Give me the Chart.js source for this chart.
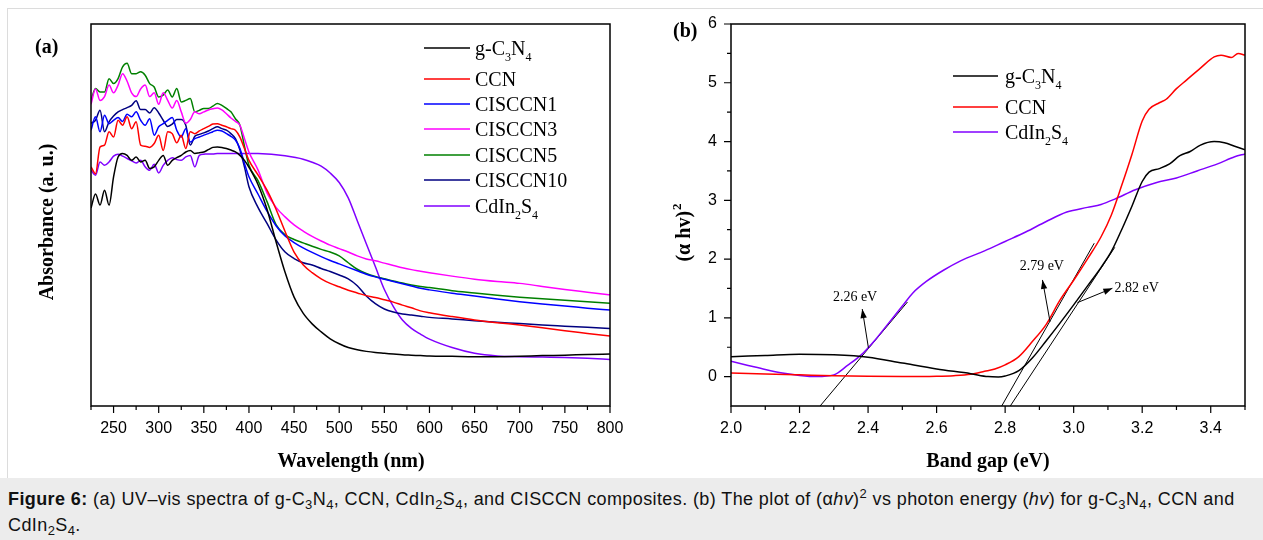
<!DOCTYPE html>
<html><head><meta charset="utf-8">
<script src="https://cdn.jsdelivr.net/npm/chart.js@4.4.0/dist/chart.umd.min.js"></script>
<style>
html,body{margin:0;padding:0;background:#fff;width:1263px;height:540px;overflow:hidden;}
#frame{position:absolute;left:7px;top:8px;width:1260px;height:469px;border:1px solid #dcdcdc;border-right:none;border-bottom:none;}
#ca{position:absolute;left:0;top:0;}
#cb{position:absolute;left:640px;top:0;}
#cap{position:absolute;left:0;top:478px;width:1263px;height:62px;background:#ececec;font-family:"Liberation Sans",Arial,sans-serif;font-size:18px;letter-spacing:0.4px;line-height:26px;padding:8px 0 0 8px;box-sizing:border-box;color:#111;white-space:nowrap;}
#cap sub{font-size:13px;vertical-align:-4px;line-height:0;}
#cap sup{font-size:13px;vertical-align:7px;line-height:0;}
</style></head>
<body>
<div id="frame"></div>
<canvas id="ca" width="640" height="478"></canvas>
<canvas id="cb" width="623" height="478"></canvas>
<div id="cap"><b>Figure 6:</b> (a) UV–vis spectra of g-C<sub>3</sub>N<sub>4</sub>, CCN, CdIn<sub>2</sub>S<sub>4</sub>, and CISCCN composites. (b) The plot of (α<i>hv</i>)<sup>2</sup> vs photon energy (<i>hv</i>) for g-C<sub>3</sub>N<sub>4</sub>, CCN and<br>CdIn<sub>2</sub>S<sub>4</sub>.</div>
<script>
// ---------- Panel (a) data ----------
const wavelengths = [225,230,235,240,245,250,255,260,265,270,275,280,285,290,295,300,305,310,315,320,325,330,335,340,345,350,355,360,365,370,375,380,385,390,395,400,
 410,420,430,440,450,460,470,480,490,500,510,520,530,540,550,560,570,580,590,600,
 625,650,675,700,725,750,775,800];
const gC3N4_A = [51.8,55.5,52.6,56.5,52.6,60,65.2,66.1,65.6,64.3,65.2,63.9,64.3,62.2,62.6,64.3,65.6,63,64.3,65,65.6,66.5,66.9,66.1,66.3,66.5,67.1,67.7,67.8,67.7,67.4,67,66.5,65.6,64.3,62.5,
 58,51.5,43,35,28.5,24.3,21.5,19.4,17.6,16.3,15.3,14.7,14.3,14,13.8,13.6,13.4,13.3,13.2,13.1,
 13,12.9,12.9,13,13.2,13.3,13.5,13.6];
const CCN_A = [62.6,60.8,67.8,68.3,71.8,70.4,74.8,73.5,75.7,72.6,74.4,68.3,68,67.7,68.7,70.9,66.9,71.8,71.3,68.9,70.9,67.4,71.8,71.3,72,72.6,73.2,73.8,73.9,73.5,73.1,72.6,72.2,70.4,67.4,64.3,
 60.5,56.5,51.5,45.7,40.3,37,34.9,33.3,32.1,31.2,30.3,29.6,28.9,28.4,27.8,27.2,26.4,25.7,24.9,24.4,
 23.4,22.5,21.8,21.2,20.5,19.7,19,18.3];
const CISCCN1_A = [72.2,75.7,71.8,76.1,73.9,74.8,75.5,74.5,76.4,75.7,77,74.8,73.5,75.2,70.9,73.1,73.9,74.8,75.5,72.2,70.4,72.6,69.1,70,70.4,70.9,71.3,71.8,72.2,72,71.3,70.6,69.6,67.4,63.5,60,
 55.5,51,47.2,44.5,42.8,41.4,40.2,39.1,38.1,37.2,36.3,35.4,34.5,33.8,33.2,32.6,32,31.4,30.8,30.4,
 29.5,28.8,28,27.3,26.7,26.2,25.6,25.1];
const CISCCN3_A = [79,83,80,81,84,82,84,87,85,82,81,83,84,81,82,79,82,80,78,80,77,74,75,77,76.5,77,77.5,77.8,78,77.5,76.5,75.4,74.5,73.5,70,66.5,
 61.8,55.8,52,49.5,47.4,45.8,44.4,43.2,42.1,41.2,40.3,39.3,38.5,38,37.4,36.8,36.2,35.7,35.3,34.9,
 34,33.2,32.6,32.1,31.3,30.5,29.8,29.1];
const CISCCN5_A = [80,83.1,82.2,82.2,85.7,84.4,85.7,88.8,89.7,87,87,87.5,86.6,84.4,83.5,80.9,81.4,82.7,80.9,83.1,79.6,80,80.5,77,77.4,77.9,77.9,78.5,79.2,78.7,77.9,77,75.2,73.5,68,63,
 59,53.5,47.5,44.8,43.6,42.7,41.8,41,40.3,39.3,37.5,35.8,34.7,33.9,33.3,32.7,32.2,31.7,31.3,31,
 30.2,29.6,29,28.5,28.1,27.7,27.3,26.9];
const CISCCN10_A = [74,74.8,77.4,71.8,74.4,75.9,77,77.6,78.1,78.7,79.9,77.6,77.6,76.7,78.1,76.7,74.8,73.2,73.8,75,75,73.5,68.3,70.6,71.1,71.5,72,72.6,73.1,72.6,72.2,71.3,70,67,62.6,57.4,
 52,47.8,43.5,40.3,38.6,37.5,36.9,36,35.2,34.3,33.3,31.5,28.8,26.8,25.4,24.6,24.1,23.8,23.5,23.2,
 22.8,22.3,21.9,21.6,21.2,20.9,20.6,20.3];
const CdIn2S4_A = [61.7,60.4,63.9,63,63.9,65.4,65.9,65.4,64.8,64.2,63.6,64.3,62.6,61.7,63.3,61,63,64.3,65,64.5,64.3,65.2,65.6,62.6,65.6,65.9,66,66,66.1,66.1,66.1,66.1,66.1,66.1,66.1,66.1,
 66.1,66,65.8,65.5,65.1,64.6,63.8,62.8,61,58.5,54.5,48.5,42.5,36.5,30.5,26,22.5,20.3,18.8,17.5,
 15.3,13.8,13.1,12.9,12.8,12.7,12.5,12.2];
const namesA = ['g-C_3N_4','CCN','CISCCN1','CISCCN3','CISCCN5','CISCCN10','CdIn_2S_4'];
const colorsA = ['#000000','#ff0000','#0000ff','#ff00ff','#008000','#000080','#8000ff'];
const valuesA = [gC3N4_A, CCN_A, CISCCN1_A, CISCCN3_A, CISCCN5_A, CISCCN10_A, CdIn2S4_A];
const xTicksA = [250,300,350,400,450,500,550,600,650,700,750,800];
const xMinorA = [225,275,325,375,425,475,525,575,625,675,725,775];

// ---------- Panel (b) data ----------
const energy_g = [2.0,2.1,2.2,2.3,2.4,2.5,2.6,2.7,2.75,2.78,2.8,2.84,2.88,2.92,2.96,3.0,3.04,3.08,3.11,3.14,3.17,3.2,3.22,3.25,3.28,3.31,3.34,3.37,3.41,3.44,3.47,3.5];
const gC3N4_B  = [0.34,0.36,0.38,0.37,0.33,0.23,0.13,0.05,0.0,-0.005,0.01,0.1,0.32,0.61,0.91,1.22,1.54,1.86,2.13,2.5,2.9,3.32,3.48,3.54,3.62,3.76,3.83,3.94,4.0,3.98,3.92,3.86];
const energy_c = [2.0,2.1,2.2,2.3,2.4,2.5,2.6,2.65,2.7,2.74,2.77,2.8,2.84,2.88,2.92,2.96,3.0,3.04,3.08,3.11,3.14,3.17,3.2,3.22,3.25,3.27,3.3,3.33,3.37,3.41,3.43,3.46,3.48,3.5];
const CCN_B    = [0.06,0.045,0.03,0.015,0.005,0.0,0.005,0.015,0.04,0.09,0.13,0.2,0.34,0.6,0.89,1.3,1.64,2.0,2.38,2.75,3.25,3.78,4.35,4.55,4.66,4.72,4.9,5.05,5.25,5.44,5.47,5.43,5.5,5.47];
const energy_s = [2.0,2.05,2.1,2.15,2.2,2.25,2.3,2.34,2.38,2.42,2.46,2.5,2.53,2.57,2.62,2.67,2.74,2.8,2.86,2.92,2.98,3.04,3.08,3.12,3.18,3.24,3.3,3.36,3.42,3.47,3.5];
const CdIn2S4_B = [0.26,0.19,0.12,0.06,0.02,0.0,0.03,0.19,0.37,0.62,0.91,1.2,1.42,1.62,1.81,1.97,2.14,2.3,2.46,2.64,2.8,2.88,2.93,3.02,3.18,3.3,3.38,3.5,3.62,3.74,3.79];
const namesB = ['g-C_3N_4','CCN','CdIn_2S_4'];
const colorsB = ['#000000','#ff0000','#8000ff'];
// tangent lines (Tauc extrapolation): [x0,y0,x1,y1]
const tangentLines = [[2.26,-0.5,2.515,1.27],[2.79,-0.5,3.06,2.27],[2.815,-0.5,3.12,2.2]];
const bandGapLabels = ['2.26 eV','2.79 eV','2.82 eV'];
const labelPos = [[2.362,1.35],[2.907,1.88],[3.184,1.51]];
const arrowTail = [[2.401,0.49],[2.931,0.935],[3.011,1.259]];
const arrowTip = [[2.383,1.15],[2.909,1.645],[3.113,1.503]];
const xTicksB = [2.0,2.2,2.4,2.6,2.8,3.0,3.2,3.4];
const xMinorB = [2.1,2.3,2.5,2.7,2.9,3.1,3.3,3.5];
const yTicksB = [0,1,2,3,4,5,6];
const yMinorB = [0.5,1.5,2.5,3.5,4.5,5.5];

const SANS = '"Liberation Sans", Arial, sans-serif';
const SERIF = '"Liberation Serif", "Times New Roman", serif';

function drawSubText(ctx, str, x, y, size, bold){
  const parts = str.split(/(_\d)/).filter(p=>p.length);
  ctx.textBaseline = 'alphabetic';
  ctx.textAlign = 'left';
  const base = y + size*0.33;
  let cx = x;
  for (const p of parts){
    if (p[0]==='_'){
      ctx.font = (bold?'bold ':'') + Math.round(size*0.62) + 'px ' + SERIF;
      ctx.fillText(p.slice(1), cx, base + size*0.3);
      cx += ctx.measureText(p.slice(1)).width;
    } else {
      ctx.font = (bold?'bold ':'') + size + 'px ' + SERIF;
      ctx.fillText(p, cx, base);
      cx += ctx.measureText(p).width;
    }
  }
}

function frameAndTicks(chart, xs, ys){
  const ctx = chart.ctx, a = chart.chartArea;
  ctx.save();
  ctx.strokeStyle = '#000';
  ctx.lineWidth = 1.5;
  ctx.strokeRect(a.left, a.top, a.right-a.left, a.bottom-a.top);
  ctx.lineWidth = 1.2;
  const sx = chart.scales.x, sy = chart.scales.y;
  ctx.beginPath();
  for (const v of xs.major){ const p = sx.getPixelForValue(v); ctx.moveTo(p, a.bottom); ctx.lineTo(p, a.bottom+7); }
  for (const v of xs.minor){ const p = sx.getPixelForValue(v); ctx.moveTo(p, a.bottom); ctx.lineTo(p, a.bottom+4); }
  if (ys){
    for (const v of ys.major){ const p = sy.getPixelForValue(v); ctx.moveTo(a.left, p); ctx.lineTo(a.left-7, p); }
    for (const v of ys.minor){ const p = sy.getPixelForValue(v); ctx.moveTo(a.left, p); ctx.lineTo(a.left-4, p); }
  }
  ctx.stroke();
  ctx.restore();
}

// ---------- Chart (a) ----------
const pluginA = {
  id:'decoA',
  afterDraw(chart){
    const ctx = chart.ctx;
    frameAndTicks(chart, {major:xTicksA, minor:xMinorA}, null);
    ctx.save();
    ctx.fillStyle = '#000';
    ctx.font = 'bold 20px ' + SERIF; ctx.textAlign='left'; ctx.textBaseline='alphabetic';
    ctx.fillText('(a)', 35, 53);
    ctx.textAlign='center';
    ctx.fillText('Wavelength (nm)', 351, 467);
    ctx.save(); ctx.translate(53, 222); ctx.rotate(-Math.PI/2);
    ctx.textAlign='center'; ctx.fillText('Absorbance (a. u.)', 0, 0); ctx.restore();
    const rows = [48,79,104,129,155,180,206];
    namesA.forEach((n,i)=>{
      ctx.strokeStyle = colorsA[i]; ctx.lineWidth = 1.6;
      ctx.beginPath(); ctx.moveTo(424, rows[i]); ctx.lineTo(470, rows[i]); ctx.stroke();
      ctx.fillStyle = '#000';
      drawSubText(ctx, n, 475, rows[i], 20, false);
    });
    ctx.restore();
  }
};

new Chart(document.getElementById('ca'), {
  type:'line',
  data:{ datasets: valuesA.map((vals,i)=>({
    label: namesA[i],
    data: wavelengths.map((w,k)=>({x:w, y:vals[k]})),
    borderColor: colorsA[i], borderWidth:1.5, pointRadius:0, fill:false,
    cubicInterpolationMode:'monotone'
  }))},
  options:{
    responsive:false, animation:false, events:[],
    layout:{padding:{top:24,right:30,left:0,bottom:0}},
    plugins:{legend:{display:false}, tooltip:{enabled:false}},
    scales:{
      x:{type:'linear', min:225, max:800,
         afterBuildTicks(s){ s.ticks = xTicksA.map(v=>({value:v})); },
         afterFit(s){ s.height = 72; },
         grid:{display:false, drawTicks:false}, border:{display:false},
         ticks:{font:{family:SANS,size:16}, color:'#000', padding:13, maxRotation:0, autoSkip:false}},
      y:{type:'linear', min:0, max:100,
         afterFit(s){ s.width = 91; },
         grid:{display:false, drawTicks:false}, border:{display:false},
         ticks:{display:false}}
    }
  },
  plugins:[pluginA]
});

// ---------- Chart (b) ----------
function arrow(ctx, x0,y0,x1,y1){
  ctx.beginPath(); ctx.moveTo(x0,y0); ctx.lineTo(x1,y1); ctx.stroke();
  const ang = Math.atan2(y1-y0, x1-x0), L=9, W=3.2;
  ctx.beginPath();
  ctx.moveTo(x1,y1);
  ctx.lineTo(x1 - L*Math.cos(ang) + W*Math.sin(ang), y1 - L*Math.sin(ang) - W*Math.cos(ang));
  ctx.lineTo(x1 - L*Math.cos(ang) - W*Math.sin(ang), y1 - L*Math.sin(ang) + W*Math.cos(ang));
  ctx.closePath(); ctx.fill();
}
const pluginB = {
  id:'decoB',
  afterDraw(chart){
    const ctx = chart.ctx, sx = chart.scales.x, sy = chart.scales.y;
    frameAndTicks(chart, {major:xTicksB, minor:xMinorB}, {major:yTicksB, minor:yMinorB});
    ctx.save();
    ctx.fillStyle = '#000'; ctx.strokeStyle = '#000'; ctx.lineWidth = 1;
    ctx.font = 'bold 20px ' + SERIF; ctx.textAlign='left'; ctx.textBaseline='alphabetic';
    ctx.fillText('(b)', 33, 37);
    ctx.textAlign='center';
    ctx.fillText('Band gap (eV)', 348, 467);
    ctx.save(); ctx.translate(50, 233); ctx.rotate(-Math.PI/2);
    const t = '(α hv)'; const w1 = ctx.measureText(t).width;
    ctx.font = 'bold 13px ' + SERIF; const w2 = ctx.measureText('2').width;
    const x0 = -(w1+w2)/2;
    ctx.font = 'bold 20px ' + SERIF; ctx.textAlign='left';
    ctx.fillText(t, x0, 0);
    ctx.font = 'bold 13px ' + SERIF;
    ctx.fillText('2', x0 + w1 + 1, -9);
    ctx.restore();
    ctx.font = '14px ' + SERIF; ctx.textAlign='center'; ctx.textBaseline='middle';
    bandGapLabels.forEach((lab,i)=>{
      ctx.fillText(lab, sx.getPixelForValue(labelPos[i][0]), sy.getPixelForValue(labelPos[i][1]));
      arrow(ctx, sx.getPixelForValue(arrowTail[i][0]), sy.getPixelForValue(arrowTail[i][1]),
                 sx.getPixelForValue(arrowTip[i][0]), sy.getPixelForValue(arrowTip[i][1]));
    });
    const rows = [76,107,132];
    namesB.forEach((n,i)=>{
      ctx.strokeStyle = colorsB[i]; ctx.lineWidth = 1.6;
      ctx.beginPath(); ctx.moveTo(313, rows[i]); ctx.lineTo(358, rows[i]); ctx.stroke();
      ctx.fillStyle = '#000';
      drawSubText(ctx, n, 365, rows[i], 20, false);
    });
    ctx.restore();
  }
};

const dsB = [
  {label:namesB[0], data: energy_g.map((e,k)=>({x:e,y:gC3N4_B[k]})), borderColor:colorsB[0]},
  {label:namesB[1], data: energy_c.map((e,k)=>({x:e,y:CCN_B[k]})), borderColor:colorsB[1]},
  {label:namesB[2], data: energy_s.map((e,k)=>({x:e,y:CdIn2S4_B[k]})), borderColor:colorsB[2]}
].map(d=>Object.assign(d,{borderWidth:1.5, pointRadius:0, fill:false, cubicInterpolationMode:'monotone'}));
tangentLines.forEach((t,i)=>dsB.push({label:'tangent'+i, data:[{x:t[0],y:t[1]},{x:t[2],y:t[3]}],
  borderColor:'#000', borderWidth:1, pointRadius:0, fill:false}));

new Chart(document.getElementById('cb'), {
  type:'line',
  data:{datasets: dsB},
  options:{
    responsive:false, animation:false, events:[],
    layout:{padding:{top:24,right:18,left:0,bottom:0}},
    plugins:{legend:{display:false}, tooltip:{enabled:false}},
    scales:{
      x:{type:'linear', min:2.0, max:3.5,
         afterBuildTicks(s){ s.ticks = xTicksB.map(v=>({value:v})); },
         afterFit(s){ s.height = 72; },
         grid:{display:false, drawTicks:false}, border:{display:false},
         ticks:{font:{family:SANS,size:16}, color:'#000', padding:13, maxRotation:0, autoSkip:false,
                callback:(v)=>Number(v).toFixed(1)}},
      y:{type:'linear', min:-0.5, max:6,
         afterBuildTicks(s){ s.ticks = yTicksB.map(v=>({value:v})); },
         afterFit(s){ s.width = 91; },
         grid:{display:false, drawTicks:false}, border:{display:false},
         ticks:{font:{family:SANS,size:16}, color:'#000', padding:14, autoSkip:false}}
    }
  },
  plugins:[pluginB]
});
</script>
</body></html>
